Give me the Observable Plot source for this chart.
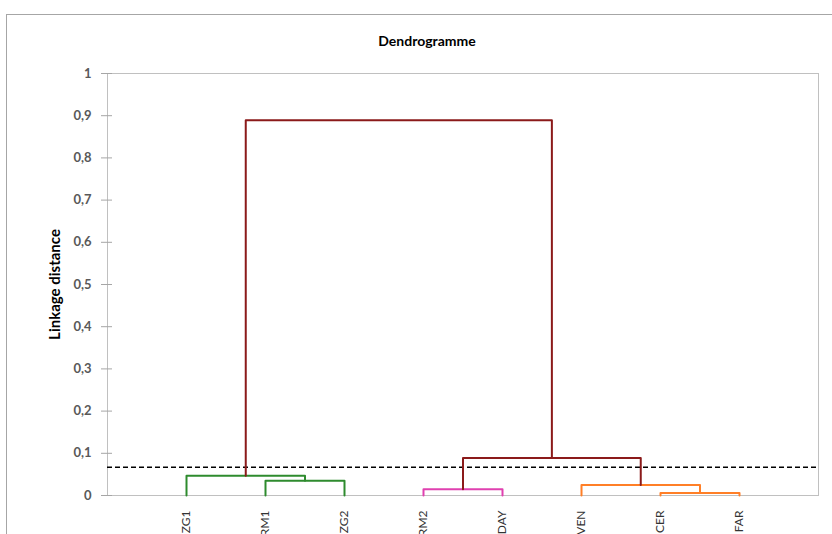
<!DOCTYPE html>
<html>
<head>
<meta charset="utf-8">
<script src="https://cdn.jsdelivr.net/npm/d3@7"></script>
<script src="https://cdn.jsdelivr.net/npm/@observablehq/plot@0.6"></script>
<style>
  html, body { margin: 0; padding: 0; background: #fff; overflow: hidden; }
  #wrap { position: relative; width: 832px; height: 534px; }
  #border { position: absolute; left: 6px; top: 14px; width: 900px; height: 700px; border: 1px solid #a6a6a6; pointer-events: none; }
  #chart { position: absolute; left: 0; top: 0; }
</style>
</head>
<body>
<div id="wrap"><div id="border"></div><div id="chart"></div></div>
<script>
// ---- data ----
const leaves = ["ZG1", "RM1", "ZG2", "RM2", "DAY", "VEN", "CER", "FAR"];
const clusterIds = ["C1", "C2", "C3", "C4", "C5", "C6", "C7"];
const clusterLeft = ["RM1", "ZG1", "RM2", "CER", "VEN", "C3", "C2"];
const clusterRight = ["ZG2", "C1", "DAY", "FAR", "C4", "C5", "C6"];
const clusterHeight = [0.035, 0.047, 0.015, 0.006, 0.025, 0.089, 0.889];
const clusterColor = ["#2e8b2e", "#2e8b2e", "#e040b0", "#ff7f27", "#ff7f27", "#8b1a1a", "#8b1a1a"];
const cutHeight = 0.067;
const yTicks = [0, 0.1, 0.2, 0.3, 0.4, 0.5, 0.6, 0.7, 0.8, 0.9, 1];
const titleText = "Dendrogramme";
const yLabel = "Linkage distance";

// ---- build node positions ----
const pos = new Map();
leaves.forEach((l, i) => pos.set(l, {x: i + 1, y: 0}));
const paths = [];
clusterIds.forEach((id, i) => {
  const a = pos.get(clusterLeft[i]), b = pos.get(clusterRight[i]), h = clusterHeight[i];
  pos.set(id, {x: (a.x + b.x) / 2, y: h});
  paths.push({id, x: a.x, y: a.y, c: clusterColor[i]});
  paths.push({id, x: a.x, y: h, c: clusterColor[i]});
  paths.push({id, x: b.x, y: h, c: clusterColor[i]});
  paths.push({id, x: b.x, y: b.y, c: clusterColor[i]});
});

const fmt = d => d === 0 ? "0" : d === 1 ? "1" : String(d3.format(".1f")(d)).replace(".", ",");

const chart = Plot.plot({
  width: 832,
  height: 534,
  marginLeft: 107,
  marginTop: 73,
  marginRight: 14,
  marginBottom: 39,
  x: {domain: [0, leaves.length + 1], axis: null},
  y: {domain: [0, 1], axis: null},
  style: {fontFamily: "Lato, 'DejaVu Sans', sans-serif", background: "transparent", overflow: "visible"},
  marks: [
    Plot.frame({stroke: "#c0c0c0"}),
    Plot.axisY({ticks: yTicks, tickFormat: fmt, tickSize: 11, dx: 5, tickPadding: 10,
      stroke: "#a6a6a6", fill: "#595959", fontSize: 13, fontWeight: "bold", label: null}),
    Plot.axisX({ticks: d3.range(1, leaves.length + 1), tickFormat: d => leaves[d - 1], tickSize: 0,
      tickRotate: -90, tickPadding: 15, fill: "#333", fontSize: 12, label: null}),
    Plot.ruleY([cutHeight], {stroke: "#000", strokeWidth: 1.5, strokeDasharray: "5,3"}),
    Plot.line(paths, {x: "x", y: "y", z: "id", stroke: "c", strokeWidth: 2}),
    Plot.text([titleText], {frameAnchor: "top", lineAnchor: "middle", dx: -36, dy: -32, text: d => d, fontSize: 14, fontWeight: "bold", fill: "#000"}),
    Plot.text([yLabel], {frameAnchor: "left", dx: -52, rotate: -90, textAnchor: "middle", text: d => d, fontSize: 15, fontWeight: "bold", fill: "#000"})
  ]
});
document.getElementById("chart").appendChild(chart);
</script>
</body>
</html>
